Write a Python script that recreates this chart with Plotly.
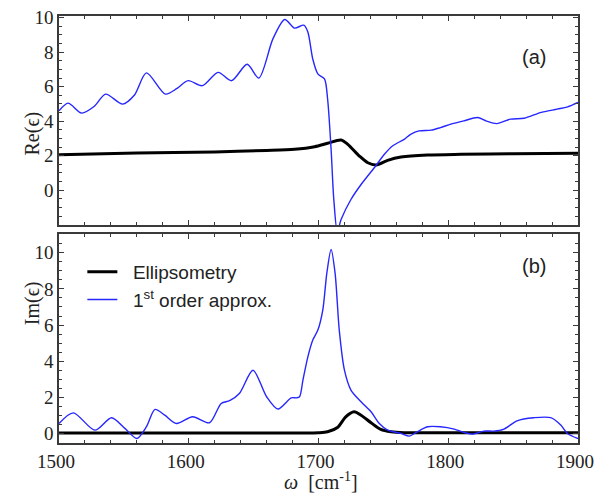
import plotly.graph_objects as go
from plotly.subplots import make_subplots

# ---- data ----
re_fit_x = [1500, 1507, 1517.4, 1527, 1536, 1549, 1558, 1567.4, 1582, 1591, 1599.5, 1610.5, 1622.6, 1633,
            1645, 1654, 1665, 1674, 1681.5, 1688.7, 1691.8, 1695.6, 1699.5, 1704.6, 1707, 1709.7, 1711.8,
            1714.5, 1717.4, 1725, 1732.8, 1743, 1750.8, 1757, 1766, 1771, 1777.5, 1786.7, 1794, 1802, 1812,
            1822.6, 1829, 1837.4, 1848, 1858.5, 1871, 1884, 1892, 1900]
re_fit_y = [4.6, 5.05, 4.47, 4.85, 5.57, 4.99, 5.5, 6.8, 5.57, 5.9, 6.35, 6.06, 6.83, 6.35,
            7.3, 6.5, 8.8, 9.9, 9.4, 9.57, 9.17, 7.6, 6.74, 6.45, 5.3, 2.37, -0.54,
            -2.4, -1.7, -0.54, 0.33, 1.3, 2.08, 2.56, 2.95, 3.24, 3.44, 3.48, 3.63, 3.83, 4.02,
            4.21, 4.02, 3.86, 4.12, 4.17, 4.5, 4.7, 4.83, 5.09]

re_ell_x = [1500, 1560, 1620, 1660, 1681.5, 1697, 1707, 1717.4, 1722.6, 1731.5, 1738, 1744.4, 1753.3,
            1763.6, 1784, 1810, 1850, 1900]
re_ell_y = [2.06, 2.15, 2.22, 2.3, 2.37, 2.52, 2.72, 2.91, 2.66, 1.98, 1.59, 1.46, 1.73,
            1.92, 2.04, 2.08, 2.11, 2.14]

im_fit_x = [1500, 1511, 1527.7, 1540.5, 1550.8, 1560, 1567.4, 1574, 1581.5, 1590.5, 1603, 1616, 1625,
            1631.5, 1639, 1649.5, 1660, 1668.7, 1679, 1683, 1685.4, 1688, 1691.8, 1695.6, 1699.5, 1703.3,
            1706.4, 1709.7, 1712.8, 1716, 1720, 1725, 1732.8, 1740.5, 1746.9, 1753.3, 1763.6, 1770, 1775,
            1784, 1794, 1804.6, 1812, 1818.5, 1827.4, 1835, 1843, 1853, 1866, 1879, 1886.7, 1891.8, 1900]
im_fit_y = [0.55, 1.14, 0.18, 0.87, 0.28, -0.28, 0.37, 1.33, 1.01, 0.55, 0.92, 0.59, 1.66,
            1.81, 2.21, 3.5, 2.03, 1.35, 1.97, 1.97, 2.03, 2.95, 4.24, 5.17, 5.72, 6.83,
            8.86, 10.18, 8.86, 5.72, 3.5, 2.4, 1.75, 1.2, 0.55, 0.18, 0.0, -0.15, 0.04,
            0.37, 0.37, 0.24, 0.06, -0.04, 0.13, 0.13, 0.24, 0.7, 0.87, 0.87, 0.46, 0.0, -0.28]

im_ell_x = [1500, 1600, 1700, 1707, 1714.6, 1721, 1727.4, 1732.8, 1740.5, 1748, 1756, 1766, 1800, 1900]
im_ell_y = [0.02, 0.03, 0.04, 0.09, 0.33, 0.92, 1.2, 1.01, 0.59, 0.22, 0.09, 0.04, 0.04, 0.04]

x_ticks = [1500, 1600, 1700, 1800, 1900]
y_ticks = [0, 2, 4, 6, 8, 10]
legend_names = ["\u00a0\u00a0Ellipsometry", "\u00a0\u00a01<sup>st</sup> order approx."]

BLUE = "#2626ff"
FRAME = "#3a3a3a"
SERIF = "Liberation Serif"
SANS = "Liberation Sans"

fig = make_subplots(rows=2, cols=1, shared_xaxes=True, vertical_spacing=9 / 427)

fig.add_trace(go.Scatter(x=re_ell_x, y=re_ell_y, mode="lines", line=dict(color="black", width=3, shape="spline", smoothing=0.8),
                         showlegend=False), row=1, col=1)
fig.add_trace(go.Scatter(x=re_fit_x, y=re_fit_y, mode="lines", line=dict(color=BLUE, width=1.4, shape="spline", smoothing=0.8),
                         showlegend=False), row=1, col=1)
fig.add_trace(go.Scatter(x=im_ell_x, y=im_ell_y, mode="lines", name=legend_names[0],
                         line=dict(color="black", width=3, shape="spline", smoothing=0.8)), row=2, col=1)
fig.add_trace(go.Scatter(x=im_fit_x, y=im_fit_y, mode="lines", name=legend_names[1],
                         line=dict(color=BLUE, width=1.4, shape="spline", smoothing=0.8)), row=2, col=1)

axis_common = dict(showline=True, linecolor=FRAME, linewidth=1.6, mirror="allticks", ticks="inside",
                   ticklen=5, tickwidth=1.2, tickcolor=FRAME, showgrid=False, zeroline=False,
                   automargin=False, tickfont=dict(family=SERIF, size=19, color="#222"))

fig.update_xaxes(**axis_common, range=[1500, 1900], tickvals=x_ticks, ticklabeloverflow="allow",
                 ticklabelshift=-3,
                 minor=dict(ticks="inside", dtick=20, ticklen=3, tickwidth=1, tickcolor=FRAME))
fig.update_xaxes(showticklabels=False, row=1, col=1)
fig.update_yaxes(**axis_common, tickvals=y_ticks,
                 minor=dict(ticks="inside", dtick=0.5, ticklen=3, tickwidth=1, tickcolor=FRAME))
fig.update_yaxes(range=[-2.02, 10.1], row=1, col=1)
fig.update_yaxes(range=[-0.53, 11.04], row=2, col=1)

fig.add_annotation(text="Re(ϵ)", xref="paper", yref="paper", x=-0.077, y=0.78, textangle=-90,
                   showarrow=False, font=dict(family=SERIF, size=20, color="#222"))
fig.add_annotation(text="Im(ϵ)", xref="paper", yref="paper", x=-0.077, y=0.27, textangle=-90,
                   showarrow=False, font=dict(family=SERIF, size=20, color="#222"))
fig.add_annotation(text="<i>ω</i>  [cm<sup>-1</sup>]", xref="paper", yref="paper", x=0.505, y=-0.09,
                   yanchor="middle", showarrow=False, font=dict(family=SERIF, size=20, color="#222"))
fig.add_annotation(text="(a)", xref="paper", yref="paper", x=0.943, y=0.935,
                   showarrow=False, font=dict(family=SANS, size=20, color="#222"))
fig.add_annotation(text="(b)", xref="paper", yref="paper", x=0.943, y=0.415,
                   showarrow=False, font=dict(family=SANS, size=20, color="#222"))

fig.update_layout(
    width=595, height=494,
    margin=dict(l=59, r=17, t=16, b=51, autoexpand=False),
    paper_bgcolor="white", plot_bgcolor="white",
    legend=dict(x=0.045, y=0.445, xanchor="left", yanchor="top", bgcolor="rgba(0,0,0,0)",
                font=dict(family=SANS, size=19, color="#222"), tracegroupgap=0, itemwidth=30),
)

fig.write_html("out.html")
